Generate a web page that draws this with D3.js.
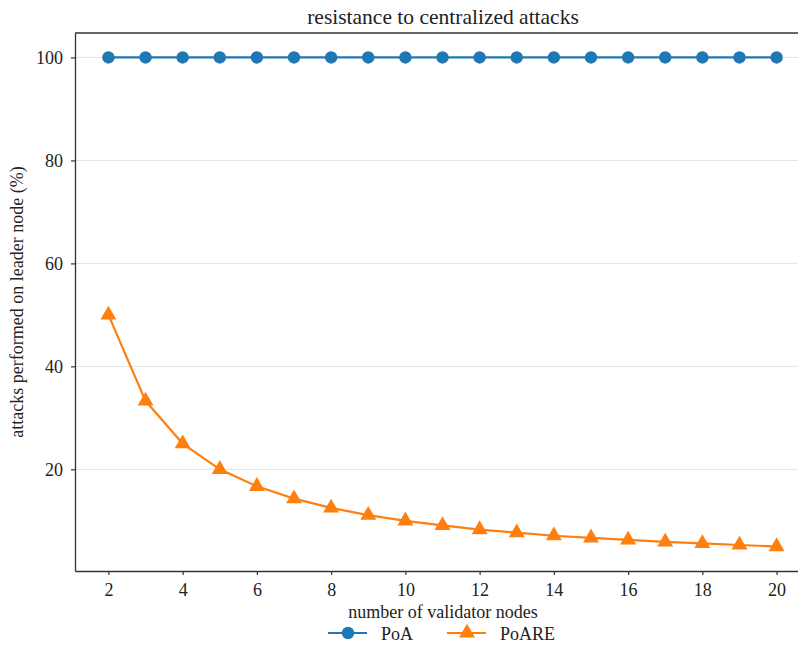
<!DOCTYPE html>
<html>
<head>
<meta charset="utf-8">
<script src="https://cdn.jsdelivr.net/npm/d3@7"></script>
<style>
    body { margin: 0; background: #fff; }
    svg text { font-family: "Liberation Serif", "Times New Roman", Times, serif; }
</style>
</head>
<body>
<div id="chart"></div>
<script>
// data
const nodes = [2, 3, 4, 5, 6, 7, 8, 9, 10, 11, 12, 13, 14, 15, 16, 17, 18, 19, 20];
const poa = [100, 100, 100, 100, 100, 100, 100, 100, 100, 100, 100, 100, 100, 100, 100, 100, 100, 100, 100];
const poare = [50, 33.3, 25, 20, 16.7, 14.3, 12.5, 11.1, 10, 9.1, 8.3, 7.7, 7.1, 6.7, 6.3, 5.9, 5.6, 5.3, 5];
const xTicks = [2, 4, 6, 8, 10, 12, 14, 16, 18, 20];
const yTicks = [20, 40, 60, 80, 100];

const W = 798, H = 645;
const margin = {top: 33, left: 75, bottom: 74, right: -12};
const width = W - margin.left - margin.right;
const height = H - margin.top - margin.bottom;
const serif = "'Liberation Serif', 'Times New Roman', serif";

const svg = d3.select("#chart").append("svg")
    .attr("width", W)
    .attr("height", H);

const g = svg.append("g")
    .attr("transform", `translate(${margin.left}, ${margin.top})`);

const x = d3.scaleLinear().domain([1.1, 20.9]).range([0, width]);
const y = d3.scaleLinear().domain([0.25, 104.75]).range([height, 0]);

// grid
g.selectAll(".grid")
    .data(yTicks)
    .enter().append("line")
    .attr("class", "grid")
    .attr("x1", 0).attr("x2", width)
    .attr("y1", d => y(d)).attr("y2", d => y(d))
    .attr("stroke", "#e3e3e3")
    .attr("stroke-width", 1);

// axes
const xAxis = g.append("g")
    .attr("transform", `translate(0, ${height})`)
    .call(d3.axisBottom(x).tickValues(xTicks).tickSize(4).tickSizeOuter(0).tickPadding(8));
const yAxis = g.append("g")
    .call(d3.axisLeft(y).tickValues(yTicks).tickSize(4).tickSizeOuter(0).tickPadding(8));

[xAxis, yAxis].forEach(a => {
    a.attr("font-family", serif).attr("font-size", 18);
    a.select(".domain").attr("stroke", "#333").attr("stroke-width", 1.3);
    a.selectAll(".tick line").attr("stroke", "#333").attr("stroke-width", 1.2);
    a.selectAll(".tick text").attr("fill", "#222");
});

// top spine
g.append("line")
    .attr("x1", 0).attr("x2", width)
    .attr("y1", 0).attr("y2", 0)
    .attr("stroke", "#333").attr("stroke-width", 1.3);

const line = d3.line()
    .x(d => x(d[0]))
    .y(d => y(d[1]));

const poaData = nodes.map((n, i) => [n, poa[i]]);
const poareData = nodes.map((n, i) => [n, poare[i]]);

const blue = "#1f77b4", orange = "#ff7f0e";

g.append("path")
    .datum(poaData)
    .attr("d", line)
    .attr("fill", "none")
    .attr("stroke", blue)
    .attr("stroke-width", 2.2);

g.selectAll(".poa")
    .data(poaData)
    .enter().append("circle")
    .attr("class", "poa")
    .attr("cx", d => x(d[0]))
    .attr("cy", d => y(d[1]))
    .attr("r", 6.2)
    .attr("fill", blue);

g.append("path")
    .datum(poareData)
    .attr("d", line)
    .attr("fill", "none")
    .attr("stroke", orange)
    .attr("stroke-width", 2.2);

const tri = d3.symbol().type(d3.symbolTriangle).size(110);

g.selectAll(".poare")
    .data(poareData)
    .enter().append("path")
    .attr("class", "poare")
    .attr("d", tri)
    .attr("transform", d => `translate(${x(d[0])}, ${y(d[1])})`)
    .attr("fill", orange);

// title and labels
svg.append("text")
    .attr("x", 443).attr("y", 24)
    .attr("text-anchor", "middle")
    .attr("font-family", serif)
    .attr("font-size", 21.5)
    .attr("fill", "#222")
    .text("resistance to centralized attacks");

svg.append("text")
    .attr("x", 443).attr("y", 618)
    .attr("text-anchor", "middle")
    .attr("font-family", serif)
    .attr("font-size", 18)
    .attr("fill", "#222")
    .text("number of validator nodes");

svg.append("text")
    .attr("transform", `translate(23, ${margin.top + height / 2}) rotate(-90)`)
    .attr("text-anchor", "middle")
    .attr("font-family", serif)
    .attr("font-size", 18)
    .attr("fill", "#222")
    .text("attacks performed on leader node (%)");

// legend
const legend = svg.append("g").attr("transform", "translate(0, 633)");
const items = [
    {name: "PoA", color: blue, x0: 328, sym: "circle"},
    {name: "PoARE", color: orange, x0: 447, sym: "triangle"}
];
items.forEach(it => {
    legend.append("line")
        .attr("x1", it.x0).attr("x2", it.x0 + 39)
        .attr("y1", 0).attr("y2", 0)
        .attr("stroke", it.color).attr("stroke-width", 2.2);
    if (it.sym === "circle") {
        legend.append("circle")
            .attr("cx", it.x0 + 20).attr("cy", 0).attr("r", 6.2)
            .attr("fill", it.color);
    } else {
        legend.append("path")
            .attr("d", tri)
            .attr("transform", `translate(${it.x0 + 20}, 0)`)
            .attr("fill", it.color);
    }
    legend.append("text")
        .attr("x", it.x0 + 53).attr("y", 7)
        .attr("font-family", serif)
        .attr("font-size", 18)
        .attr("fill", "#222")
        .text(it.name);
});
</script>
</body>
</html>
